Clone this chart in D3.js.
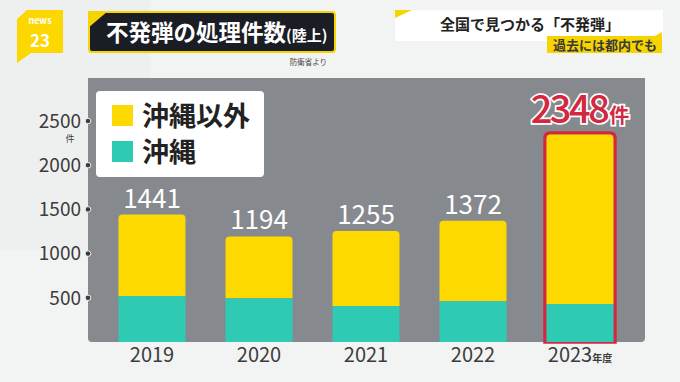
<!DOCTYPE html>
<html><head><meta charset="utf-8">
<script src="https://cdn.jsdelivr.net/npm/d3@7"></script>
<style>
html,body{margin:0;padding:0;background:#f1f2f2;}
svg{display:block;}
text{font-family:"Noto Sans CJK JP","Noto Sans",sans-serif;}
</style></head>
<body>
<svg id="c" width="680" height="382"></svg>
<script>
const years = ["2019","2020","2021","2022","2023"];
const totals = [1441,1194,1255,1372,2348];
const okinawa = [520,494,407,460,429];
const others = [921,700,848,912,1919];
const yTicks = [500,1000,1500,2000,2500];
const legendLabels = ["沖縄以外","沖縄"];
const colors = {others:"#fdd900", okinawa:"#2ecab4", panel:"#868a8e", red:"#d3283f", text:"#3c3c3c"};

const svg = d3.select("#c");
// background
svg.append("rect").attr("width",680).attr("height",382).attr("fill","#f2f3f3");
svg.append("rect").attr("x",0).attr("y",0).attr("width",150).attr("height",250).attr("fill","#eef0f0");

const panel = {x0:88, x1:645, y0:78, y1:342};
const x = d3.scaleBand().domain(years).range([98.5,633.5]).paddingInner(0.374).paddingOuter(0.187);
const y = d3.scaleLinear().domain([0,2500]).range([panel.y1,121]);

// panel
svg.append("path").attr("fill",colors.panel)
  .attr("d",`M${panel.x0},${panel.y0}H${panel.x1}V${panel.y1-4}Q${panel.x1},${panel.y1} ${panel.x1-4},${panel.y1}H${panel.x0+4}Q${panel.x0},${panel.y1} ${panel.x0},${panel.y1-4}Z`);

function topRounded(x0,y0,w,h,r){
  return `M${x0},${y0+h}V${y0+r}Q${x0},${y0} ${x0+r},${y0}H${x0+w-r}Q${x0+w},${y0} ${x0+w},${y0+r}V${y0+h}Z`;
}

const data = years.map((yr,i)=>({yr, total:totals[i], ok:okinawa[i], ot:others[i]}));
const g = svg.append("g");
data.forEach((d,i)=>{
  const bx = x(d.yr), bw = x.bandwidth();
  if(i===4){
    g.append("path").attr("d",topRounded(bx-1.5,y(d.ok+d.ot)-1.5,bw+3,y(0)-y(d.ok+d.ot)+1.5,5))
      .attr("fill","none").attr("stroke",colors.red).attr("stroke-width",3.5);
  }
  g.append("path").attr("d",topRounded(bx,y(d.ok+d.ot),bw,y(d.ok)-y(d.ok+d.ot),4)).attr("fill",colors.others);
  g.append("rect").attr("x",bx).attr("y",y(d.ok)).attr("width",bw).attr("height",y(0)-y(d.ok)).attr("fill",colors.okinawa);
  if(i<4){
    g.append("text").attr("x",bx+bw/2).attr("y",y(d.total)-7).attr("text-anchor","middle")
      .attr("font-size",26).attr("fill","#ffffff").attr("font-family","'Open Sans','Noto Sans',sans-serif").text(d.total);
  } else {
    const t = g.append("text").attr("x",bx+bw/2).attr("y",y(d.total)-11).attr("text-anchor","middle")
      .attr("fill",colors.red).attr("stroke","#ffffff").attr("stroke-width",3.5).attr("paint-order","stroke")
      .attr("font-weight",500).attr("font-family","'Open Sans','Noto Sans',sans-serif");
    t.append("tspan").attr("font-size",38).attr("letter-spacing",-2.5).text(d.total);
    t.append("tspan").attr("font-size",20).attr("font-family","'Noto Sans CJK JP'").attr("font-weight","bold").attr("dx",2).text("件");
  }
});

// y axis ticks
yTicks.forEach(t=>{
  svg.append("circle").attr("cx",panel.x0).attr("cy",y(t)).attr("r",2.8).attr("fill",colors.text).attr("stroke","#f2f3f3").attr("stroke-width",1);
  svg.append("text").attr("x",81).attr("y",y(t)).attr("dy","0.36em").attr("text-anchor","end")
    .attr("font-size",19).attr("fill",colors.text).attr("font-family","'Open Sans','Noto Sans',sans-serif").text(t);
});
svg.append("text").attr("x",70).attr("y",y(2500)+21).attr("text-anchor","middle").attr("font-size",9).attr("fill",colors.text).text("件");

// x labels
years.forEach((yr,i)=>{
  const t = svg.append("text").attr("x",x(yr)+x.bandwidth()/2).attr("y",362).attr("text-anchor","middle")
    .attr("fill",colors.text).attr("font-family","'Open Sans','Noto Sans',sans-serif");
  t.append("tspan").attr("font-size",20).text(yr);
  if(i===years.length-1){
    t.append("tspan").attr("font-size",10).attr("font-weight","bold").attr("font-family","'Noto Sans CJK JP'").text("年度");
  }
});

// legend
svg.append("rect").attr("x",96).attr("y",91).attr("width",168).attr("height",86).attr("rx",4).attr("fill","#ffffff");
[colors.others, colors.okinawa].forEach((c,i)=>{
  svg.append("rect").attr("x",112).attr("y",105+i*36).attr("width",21).attr("height",21).attr("fill",c);
  svg.append("text").attr("x",142).attr("y",126+i*36).attr("font-size",27).attr("font-weight","bold").attr("fill","#222").text(legendLabels[i]);
});

// logo
svg.append("path").attr("d","M17,19L27,10H63V53H31L17,63Z").attr("fill","#fdd700");
svg.append("text").attr("x",40).attr("y",24).attr("text-anchor","middle").attr("font-size",9).attr("font-weight","bold").attr("fill","#fff").attr("font-family","Lato,sans-serif").text("news");
svg.append("text").attr("x",40).attr("y",47).attr("text-anchor","middle").attr("font-size",17).attr("font-weight","bold").attr("fill","#fff").attr("font-family","Lato,'DejaVu Sans',sans-serif").text("23");

// title box
svg.append("rect").attr("x",89).attr("y",12).attr("width",246).attr("height",40).attr("rx",3).attr("fill","#1b1d24").attr("stroke","#f5d400").attr("stroke-width",2);
svg.append("path").attr("d","M88,11H108L88,28Z").attr("fill","#f5d400");
const tt = svg.append("text").attr("x",106).attr("y",41).attr("fill","#fff").attr("font-weight","bold");
tt.append("tspan").attr("font-size",22.5).text("不発弾の処理件数");
tt.append("tspan").attr("font-size",15).text("(陸上)");
svg.append("text").attr("x",327).attr("y",65).attr("text-anchor","end").attr("font-size",7.5).attr("fill","#444").text("防衛省より");

// right header
svg.append("rect").attr("x",395).attr("y",10).attr("width",268).attr("height",31).attr("fill","#ffffff");
svg.append("path").attr("d","M395,10H412L395,18Z").attr("fill","#f5d400");
svg.append("text").attr("x",530).attr("y",30).attr("text-anchor","middle").attr("font-size",15).attr("font-weight","bold").attr("fill","#222").text("全国で見つかる「不発弾」");
svg.append("path").attr("d","M547,36H655L662,32V53H547Z").attr("fill","#f5d400");
svg.append("text").attr("x",605).attr("y",50).attr("text-anchor","middle").attr("font-size",13).attr("font-weight","bold").attr("fill","#3a3a3a").text("過去には都内でも");
</script>
</body></html>
